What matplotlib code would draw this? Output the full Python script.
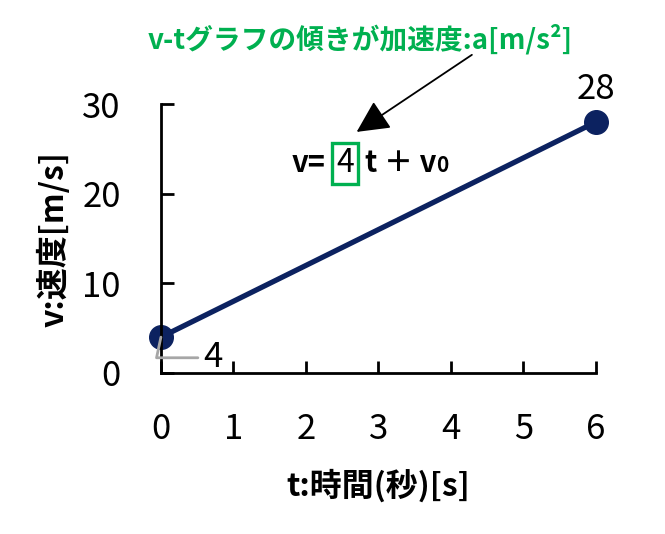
import matplotlib
matplotlib.use("Agg")
import matplotlib.pyplot as plt

# v-t graph data
t_vals = [0, 6]
v_vals = [4, 28]
x_ticks = [0, 1, 2, 3, 4, 5, 6]
y_ticks = [0, 10, 20, 30]
slope = 4

plt.rcParams["font.family"] = ["Noto Sans CJK JP", "DejaVu Sans"]

NAVY = "#0c2260"
GREEN = "#00b050"

fig = plt.figure(figsize=(6.65, 5.34), dpi=100)
ax = fig.add_axes([0.242, 0.3015, 0.654, 0.5035])

ax.plot(t_vals, v_vals, color=NAVY, lw=3.8, marker="o", ms=17, clip_on=False, zorder=2)

ax.set_xlim(0, 6)
ax.set_ylim(0, 30)
ax.set_xticks(x_ticks)
ax.set_yticks(y_ticks)
for s in ("top", "right"):
    ax.spines[s].set_visible(False)
for s in ("left", "bottom"):
    ax.spines[s].set_linewidth(2)
ax.tick_params(axis="both", direction="in", length=9, width=2, labelsize=25)
ax.tick_params(axis="x", pad=28)
ax.tick_params(axis="y", pad=29)

ax.set_xlabel("t:時間(秒)[s]", fontsize=23, fontweight="bold", labelpad=16)
ax.set_ylabel("v:速度[m/s]", fontsize=23, fontweight="bold", labelpad=8)

# data labels
ax.text(t_vals[-1], v_vals[-1] + 1.7, str(v_vals[-1]), ha="center", va="bottom", fontsize=25)
ax.annotate(str(v_vals[0]), xy=(t_vals[0], v_vals[0]), xytext=(0.72, 1.7),
            ha="center", va="center", fontsize=25, annotation_clip=False,
            arrowprops=dict(arrowstyle="-", color="#a6a6a6", lw=2,
                            connectionstyle="angle,angleA=0,angleB=78",
                            shrinkA=2, shrinkB=0))

# equation v = 4 t + v0
ax.text(2.27, 23.4, "v=", ha="right", va="center", fontsize=21, fontweight="bold")
ax.text(2.54, 23.4, str(slope), ha="center", va="center", fontsize=23,
        bbox=dict(boxstyle="square,pad=0.14", fc="none", ec=GREEN, lw=2.4))
plus = ax.text(2.81, 23.4, "t ＋ v", ha="left", va="center", fontsize=21, fontweight="bold")
ax.annotate("0", xy=(1.0, 0.08), xycoords=plus, ha="left", va="bottom",
            fontsize=15, fontweight="bold")

# slope note + arrow
fig.text(0.541, 0.926, "v-tグラフの傾きが加速度:a[m/s²]", ha="center", va="center",
         fontsize=20, fontweight="bold", color=GREEN)
ax.annotate("", xy=(2.70, 26.9), xytext=(4.29, 35.5), annotation_clip=False,
            arrowprops=dict(arrowstyle="-|>,head_length=2.0,head_width=1.0",
                            color="black", lw=1.3, shrinkA=0, shrinkB=0))

fig.savefig("out.png", dpi=100)
